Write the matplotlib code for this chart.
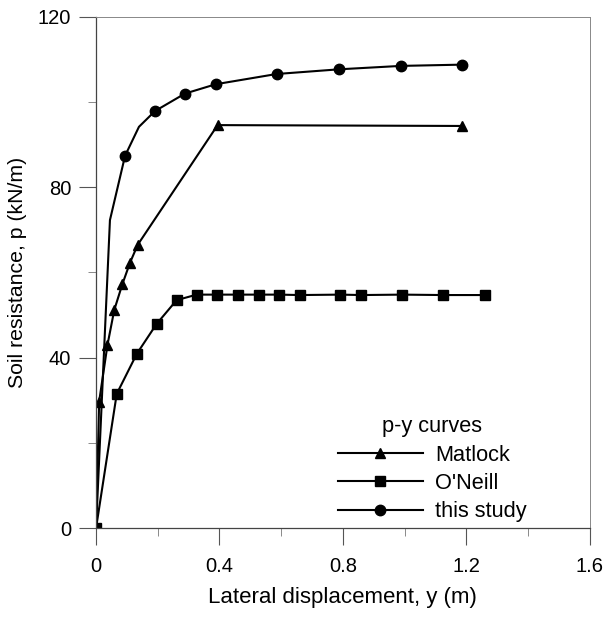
import matplotlib
matplotlib.use("Agg")
import matplotlib.pyplot as plt
from matplotlib.ticker import MultipleLocator

plt.rcParams['font.family'] = ['Liberation Sans', 'DejaVu Sans']

# Matlock p-y curve
matlock_y = [0, 0.010, 0.037, 0.059, 0.085, 0.110, 0.135, 0.394, 1.186]
matlock_p = [0, 29.7, 43.0, 51.2, 57.2, 62.3, 66.5, 94.6, 94.4]

# O'Neill p-y curve
oneill_y = [0, 0.067, 0.132, 0.196, 0.261, 0.326, 0.393, 0.461, 0.528,
            0.594, 0.660, 0.792, 0.860, 0.992, 1.125, 1.260]
oneill_p = [0, 31.5, 40.9, 47.9, 53.5, 54.8, 54.8, 54.8, 54.8,
            54.8, 54.7, 54.8, 54.7, 54.8, 54.7, 54.7]

# this study (points with and without markers)
study_y = [0, 0.045, 0.094, 0.139, 0.191, 0.288, 0.388, 0.585, 0.787, 0.987, 1.186]
study_p = [0, 72.3, 87.4, 94.2, 97.9, 102.0, 104.2, 106.6, 107.7, 108.5, 108.8]
study_marked = [2, 4, 5, 6, 7, 8, 9, 10]

xticks = [0, 0.4, 0.8, 1.2, 1.6]
xticklabels = ["0", "0.4", "0.8", "1.2", "1.6"]
yticks = [0, 40, 80, 120]
yticklabels = ["0", "40", "80", "120"]

fig = plt.figure(figsize=(6.08, 6.18), dpi=100)
ax = fig.add_axes([0.158, 0.1456, 0.812, 0.827])

ax.plot(matlock_y, matlock_p, color='black', lw=1.5, marker='^', ms=7,
        markevery=list(range(1, len(matlock_y))), label='Matlock')
ax.plot(oneill_y, oneill_p, color='black', lw=1.5, marker='s', ms=7,
        label="O'Neill")
ax.plot(study_y, study_p, color='black', lw=1.5, marker='o', ms=7.5,
        markevery=study_marked, label='this study')

ax.set_xlim(0, 1.6)
ax.set_ylim(0, 120)
ax.set_xticks(xticks)
ax.set_xticklabels(xticklabels)
ax.set_yticks(yticks)
ax.set_yticklabels(yticklabels)
ax.xaxis.set_minor_locator(MultipleLocator(0.2))
ax.yaxis.set_minor_locator(MultipleLocator(20))
ax.tick_params(which='major', direction='out', length=12, width=0.8,
               labelsize=14.5, color='#555555')
ax.tick_params(axis='x', which='major', pad=9)
ax.tick_params(axis='y', which='major', pad=6)
ax.tick_params(which='minor', direction='out', length=6, width=0.6,
               color='#777777')

for s in ['left', 'bottom']:
    ax.spines[s].set_color('#444444')
    ax.spines[s].set_linewidth(0.9)
for s in ['top', 'right']:
    ax.spines[s].set_color('#888888')
    ax.spines[s].set_linewidth(0.7)

ax.set_xlabel('Lateral displacement, y (m)', fontsize=16, labelpad=8)
ax.set_ylabel('Soil resistance, p (kN/m)', fontsize=15.3, labelpad=8)

leg = ax.legend(title='p-y curves', loc='upper left', frameon=False,
                fontsize=15.7, title_fontsize=15.7, handlelength=3.9,
                bbox_to_anchor=(0.49, 0.219), labelspacing=0.34,
                handletextpad=0.55, borderpad=0, borderaxespad=0)

fig.savefig('out.png', dpi=100)
